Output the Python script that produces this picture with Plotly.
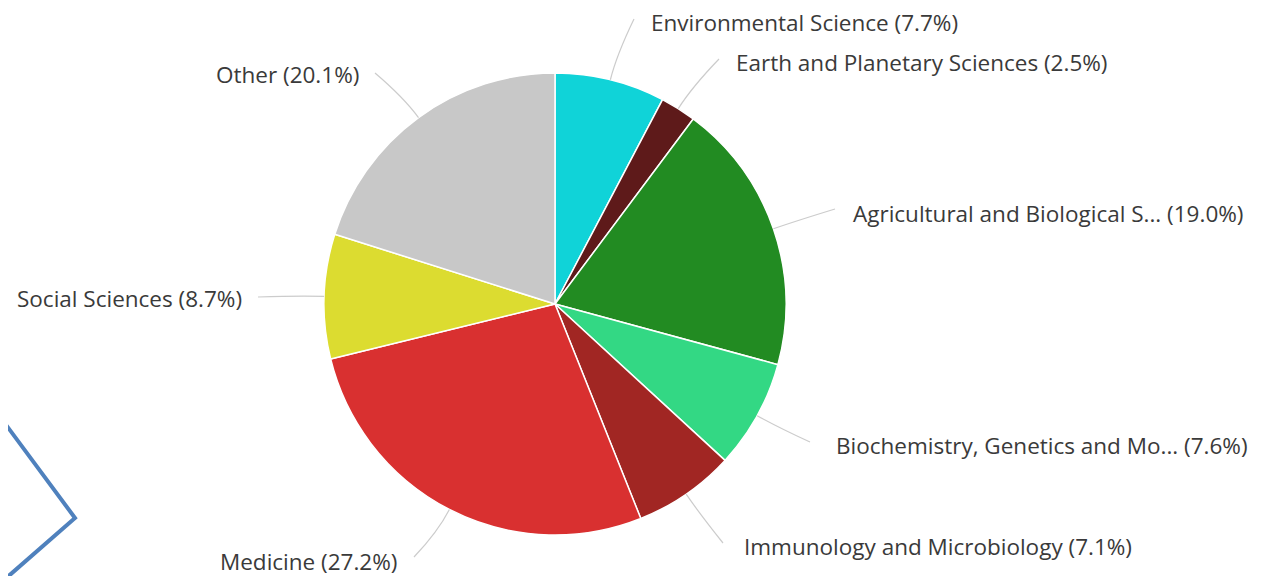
import math
import plotly.graph_objects as go

# ---- data ----
categories = [
    "Environmental Science",
    "Earth and Planetary Sciences",
    "Agricultural and Biological S...",
    "Biochemistry, Genetics and Mo...",
    "Immunology and Microbiology",
    "Medicine",
    "Social Sciences",
    "Other",
]
shares = [7.7, 2.5, 19.0, 7.6, 7.1, 27.2, 8.7, 20.1]
colors = ["#10d3d8", "#5e1a1a", "#228b22", "#33d884", "#a12623",
          "#d93030", "#dcdc30", "#c8c8c8"]

# ---- layout (pixels, page coordinates) ----
W, H = 1265, 576
OFF = 8  # page body margin
CX, CY, R = 555, 304, 231
# label anchor: (x, y, xanchor) and connector end point
label_pos = [
    (650, 23, "left", 634, 19),
    (735, 62, "left", 719, 59),
    (852, 214, "left", 835, 209),
    (835, 445, "left", 810, 442),
    (743, 546, "left", 723, 543),
    (398, 561, "right", 414, 557),
    (243, 298, "right", 258, 297),
    (360, 75, "right", 375, 73),
]

def px(x):
    return (x - OFF) / W

def py(y):
    return 1 - (y - OFF) / H

fig = go.Figure(go.Pie(
    labels=categories,
    values=shares,
    marker=dict(colors=colors, line=dict(color="white", width=1.5)),
    sort=False,
    direction="clockwise",
    rotation=0,
    textinfo="none",
    hoverinfo="label+percent",
    domain=dict(x=[px(CX - R), px(CX + R)], y=[py(CY + R), py(CY - R)]),
))

total = sum(shares)
cum = 0
shapes = []
annotations = []
for cat, v, (lx, ly, xa, ex, ey) in zip(categories, shares, label_pos):
    mid = (cum + v / 2) / total * 2 * math.pi
    cum += v
    sx = CX + R * math.sin(mid)
    sy = CY - R * math.cos(mid)
    cx_ = CX + (R + 25) * math.sin(mid)
    cy_ = CY - (R + 25) * math.cos(mid)
    path = (f"M {px(sx)},{py(sy)} Q {px(cx_)},{py(cy_)} {px(ex)},{py(ey)}")
    shapes.append(dict(type="path", path=path, xref="paper", yref="paper",
                       line=dict(color="#cccccc", width=1.2)))
    pct = f"{v:.1f}%"
    annotations.append(dict(
        x=px(lx), y=py(ly), xref="paper", yref="paper",
        xanchor=xa, yanchor="middle", showarrow=False, borderpad=0,
        text=f"{cat} ({pct})",
        font=dict(family="Open Sans", size=22.5, color="#3a3a3a"),
    ))

# blue chevron decoration
shapes.append(dict(
    type="path",
    path=f"M {px(-2)},{py(414)} L {px(75)},{py(518)} L {px(4)},{py(580)}",
    xref="paper", yref="paper",
    line=dict(color="#4f81bd", width=4),
))

fig.update_layout(
    width=W, height=H,
    margin=dict(l=0, r=0, t=0, b=0),
    showlegend=False,
    paper_bgcolor="white",
    plot_bgcolor="white",
    shapes=shapes,
    annotations=annotations,
)

fig.write_html("out.html")
